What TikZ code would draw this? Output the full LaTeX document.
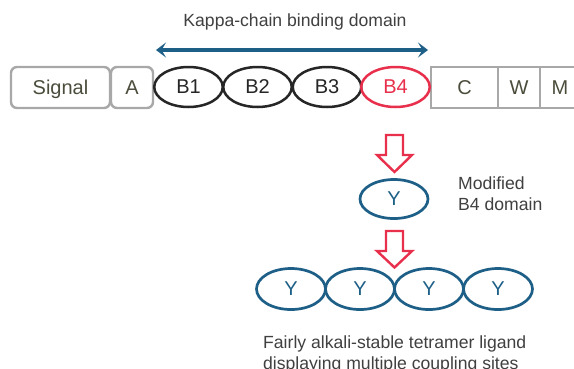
\documentclass[tikz,border=0pt]{standalone}
\usepackage{fontspec}
\setmainfont{Liberation Sans}
\usetikzlibrary{arrows.meta,shapes.geometric}
\definecolor{kblue}{HTML}{1D5F87}
\definecolor{kred}{HTML}{E8304C}
\definecolor{kgrey}{HTML}{A8A8A8}
\definecolor{kolive}{HTML}{4C4C3C}
\definecolor{kdark}{HTML}{262626}
\definecolor{ktext}{HTML}{404040}
\tikzset{
  lbl/.style={font=\fontsize{20}{24}\selectfont},
  txt/.style={font=\fontsize{17.6}{21}\selectfont, text=ktext, inner sep=0pt},
  gbox/.style={lbl, draw=kgrey, line width=2.4pt, text=kolive, minimum height=41pt, inner sep=0pt, text depth=0pt, fill=white},
  dom/.style={lbl, ellipse, draw=kdark, line width=2.5pt, text=kdark, minimum width=68.5pt, minimum height=40pt, inner sep=0pt},
  ydom/.style={lbl, ellipse, draw=kblue, line width=2.7pt, text=kblue, minimum width=69pt, minimum height=41pt, inner sep=0pt},
  hollowarrow/.style={draw=kred, line width=2.4pt, fill=white, line join=miter},
}
\begin{document}
\begin{tikzpicture}[x=1pt,y=-1pt]
\clip (0,0) rectangle (574,368);
\fill[white] (0,0) rectangle (574,368);

% title and arrow
\node[txt, anchor=base] (title) at (295,26) {Kappa-chain binding domain};
\coordinate (kl) at (156,50);
\coordinate (kr) at (428,50);
\draw[kblue, line width=3.2pt, {Stealth[length=10pt,width=15pt,inset=4.5pt]}-{Stealth[length=10pt,width=15pt,inset=4.5pt]}] (kl) -- (kr);

% top row
\node[gbox, rounded corners=6pt, minimum width=99pt] (sig) at (60.5,87.5) {Signal};
\node[gbox, rounded corners=6pt, minimum width=42pt] (a) at (132,87.5) {A};
\node[gbox, minimum width=67pt] (c) at (464.5,87.5) {C};
\node[gbox, minimum width=42pt] (w) at (519,87.5) {W};
\node[gbox, minimum width=40pt] (m) at (560,87.5) {M};
\node[dom] (b1) at (188.5,87) {B1};
\node[dom] (b2) at (257.5,87) {B2};
\node[dom] (b3) at (327,87) {B3};
\node[dom, draw=kred, text=kred] (b4) at (395.5,87) {B4};

% first hollow arrow
\draw[hollowarrow] (386,135) -- (403,135) -- (403,155) -- (412,155) -- (394.5,172) -- (377,155) -- (386,155) -- cycle;

% modified domain
\node[ydom, minimum width=68pt, minimum height=39pt] (y0) at (394,199) {Y};
\node[txt, anchor=base west] (mod1) at (458,189) {Modified};
\node[txt, anchor=base west] (mod2) at (458,210) {B4 domain};

% second hollow arrow
\draw[hollowarrow] (386,231) -- (403,231) -- (403,251) -- (412,251) -- (394.5,267.5) -- (377,251) -- (386,251) -- cycle;

% tetramer
\node[ydom] (y1) at (291,289) {Y};
\node[ydom] (y2) at (360,289) {Y};
\node[ydom] (y3) at (429,289) {Y};
\node[ydom] (y4) at (498,289) {Y};

% caption
\node[txt, anchor=base west] (cap1) at (263,348) {Fairly alkali-stable tetramer ligand};
\node[txt, anchor=base west] (cap2) at (263,369) {displaying multiple coupling sites};
\end{tikzpicture}
\end{document}
